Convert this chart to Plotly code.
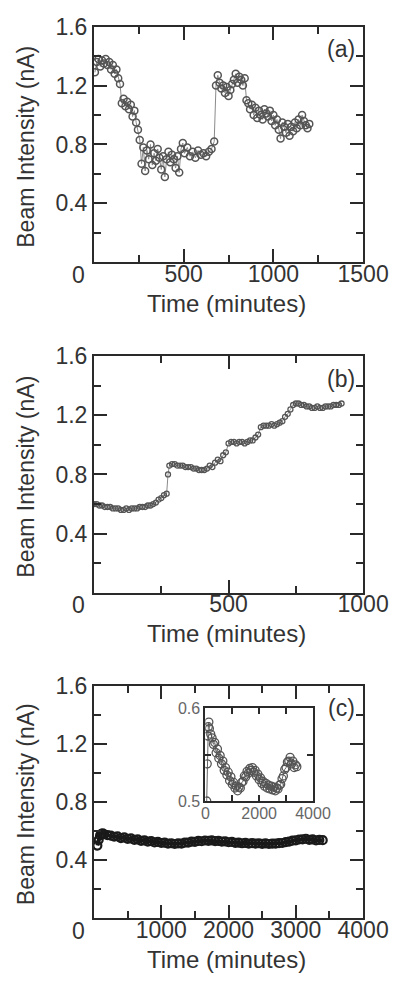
import plotly.graph_objects as go

# ---------------- data ----------------
# Panel (a)
ta = [5, 15, 25, 35, 45, 55, 65, 75, 85, 95, 105, 115, 125, 135, 145, 155, 165, 175, 185, 195,
      205, 215, 225, 235, 245, 255, 265, 275, 285, 295, 305, 315, 325, 335, 345, 355, 365, 375, 385, 395,
      405, 415, 425, 435, 445, 455, 465, 475, 485, 495, 505, 520, 535, 550, 565, 580, 595, 610, 625, 640,
      655, 670, 680, 690, 700, 710, 720, 730, 740, 750, 760, 770, 780, 790, 800, 810, 820, 830, 840, 850,
      860, 870, 880, 890, 900, 910, 920, 930, 940, 950, 960, 970, 980, 990, 1000, 1010, 1020, 1030, 1040, 1050,
      1060, 1070, 1080, 1090, 1100, 1110, 1120, 1130, 1140, 1150, 1160, 1170, 1180, 1190, 1200]
ia = [1.29, 1.36, 1.38, 1.33, 1.37, 1.35, 1.38, 1.34, 1.36, 1.31, 1.34, 1.28, 1.31, 1.25, 1.21, 1.08, 1.11, 1.06, 1.09, 1.04,
      1.07, 0.99, 1.03, 0.95, 0.90, 0.83, 0.67, 0.78, 0.62, 0.76, 0.70, 0.80, 0.66, 0.74, 0.69, 0.77, 0.71, 0.63, 0.72, 0.58,
      0.70, 0.75, 0.68, 0.73, 0.70, 0.64, 0.72, 0.61, 0.77, 0.81, 0.74, 0.78, 0.72, 0.75, 0.71, 0.76, 0.73, 0.74, 0.72, 0.75,
      0.77, 0.82, 1.20, 1.27, 1.22, 1.18, 1.20, 1.15, 1.19, 1.13, 1.17, 1.21, 1.24, 1.28, 1.22, 1.26, 1.24, 1.20, 1.25, 1.10,
      1.08, 1.04, 1.07, 1.00, 1.05, 0.98, 1.03, 1.00, 0.97, 1.04, 1.01, 0.99, 1.03, 0.96, 1.00, 0.93, 0.97, 0.90, 0.84, 0.95,
      0.92, 0.88, 0.94, 0.86, 0.92, 0.89, 0.95, 0.91, 0.97, 0.93, 1.00, 0.96, 0.93, 0.91, 0.94]

# Panel (b)
tb = [0, 10, 20, 30, 40, 50, 60, 70, 80, 90, 100, 110, 120, 130, 140, 150, 160, 170, 180, 190,
      200, 210, 220, 230, 240, 250, 260, 270, 275, 280, 290, 300, 310, 320, 330, 340, 350, 360, 370, 380,
      390, 400, 410, 420, 430, 440, 450, 460, 470, 480, 490, 500, 510, 520, 530, 540, 550, 560, 570, 580,
      590, 600, 610, 620, 630, 640, 650, 660, 670, 680, 690, 700, 710, 720, 730, 740, 750, 760, 770, 780,
      790, 800, 810, 820, 830, 840, 850, 860, 870, 880, 890, 900, 910, 920]
ib = [0.60, 0.60, 0.59, 0.59, 0.58, 0.58, 0.58, 0.57, 0.57, 0.57, 0.56, 0.56, 0.57, 0.56, 0.57, 0.57, 0.57, 0.58, 0.58, 0.58,
      0.59, 0.59, 0.60, 0.61, 0.63, 0.64, 0.66, 0.67, 0.80, 0.86, 0.87, 0.87, 0.86, 0.86, 0.86, 0.85, 0.85, 0.85, 0.84, 0.84,
      0.83, 0.83, 0.83, 0.84, 0.86, 0.85, 0.88, 0.90, 0.89, 0.93, 0.95, 1.01, 1.02, 1.02, 1.01, 1.02, 1.02, 1.01, 1.02, 1.03,
      1.03, 1.05, 1.07, 1.12, 1.13, 1.13, 1.13, 1.14, 1.13, 1.14, 1.15, 1.16, 1.19, 1.21, 1.24, 1.27, 1.28, 1.28, 1.27, 1.27,
      1.26, 1.26, 1.25, 1.25, 1.26, 1.25, 1.25, 1.26, 1.26, 1.26, 1.27, 1.27, 1.27, 1.28]

# Panel (c) (main and inset share the same data)
tc = [50, 70, 90, 110, 130, 150, 200, 250, 300, 350, 400, 450, 500, 550, 600, 650, 700, 750, 800, 850,
      900, 950, 1000, 1050, 1100, 1150, 1200, 1250, 1300, 1350, 1400, 1450, 1500, 1550, 1600, 1650, 1700, 1750, 1800, 1850,
      1900, 1950, 2000, 2050, 2100, 2150, 2200, 2250, 2300, 2350, 2400, 2450, 2500, 2550, 2600, 2650, 2700, 2750, 2800, 2850,
      2900, 2950, 3000, 3050, 3100, 3150, 3200, 3250, 3300, 3350, 3400]
ic = [0.500, 0.540, 0.570, 0.580, 0.585, 0.578, 0.572, 0.568, 0.561, 0.563, 0.552, 0.556, 0.546, 0.549, 0.540, 0.543, 0.533, 0.536, 0.528, 0.531,
      0.522, 0.526, 0.518, 0.520, 0.514, 0.516, 0.511, 0.515, 0.514, 0.520, 0.521, 0.527, 0.526, 0.532, 0.530, 0.535, 0.533, 0.536, 0.531, 0.533,
      0.527, 0.529, 0.523, 0.525, 0.519, 0.521, 0.516, 0.519, 0.514, 0.517, 0.513, 0.516, 0.512, 0.515, 0.511, 0.514, 0.513, 0.517, 0.518, 0.524,
      0.527, 0.534, 0.536, 0.542, 0.543, 0.547, 0.540, 0.543, 0.536, 0.539, 0.537]

# ---------------- figure ----------------
W, H = 416, 985
FONT = "Liberation Sans, Arial, sans-serif"
TXT = "#333333"
AXC = "#2a2a2a"

def px_x(p):
    return p / W

def px_y(p):
    return 1 - p / H

# plot boxes in pixels: (left, right, top, bottom)
boxes = {
    "a": (97, 387, 14, 255),
    "b": (97, 387, 351, 593),
    "c": (97, 387, 688, 926),
}
inset_box = (217, 333, 711, 806)

fig = go.Figure()

fig.add_trace(go.Scatter(
    x=ta, y=ia, mode="lines+markers", xaxis="x", yaxis="y",
    line=dict(color="#8a8a8a", width=1),
    marker=dict(symbol="circle-open", size=7, color="#555555", line=dict(width=1.5)),
    showlegend=False))
fig.add_trace(go.Scatter(
    x=tb, y=ib, mode="lines+markers", xaxis="x2", yaxis="y2",
    line=dict(color="#8a8a8a", width=1),
    marker=dict(symbol="circle-open", size=5, color="#555555", line=dict(width=1.3)),
    showlegend=False))
fig.add_trace(go.Scatter(
    x=tc, y=ic, mode="lines+markers", xaxis="x3", yaxis="y3",
    line=dict(color="#1a1a1a", width=4),
    marker=dict(symbol="circle-open", size=8, color="#1a1a1a", line=dict(width=2.2)),
    showlegend=False))
fig.add_trace(go.Scatter(
    x=tc, y=ic, mode="lines+markers", xaxis="x4", yaxis="y4",
    line=dict(color="#666666", width=1),
    marker=dict(symbol="circle-open", size=8, color="#555555", line=dict(width=1.3)),
    showlegend=False))

def main_axes(box, xmax, xticks, xminor):
    l, r, t, b = box
    xa = dict(
        domain=[px_x(l), px_x(r)], range=[0, xmax], showgrid=False, zeroline=False,
        showline=True, linecolor=AXC, linewidth=2, mirror="ticks",
        ticks="inside", ticklen=13, tickwidth=2, tickcolor=AXC,
        tickvals=xticks, ticktext=[str(v) for v in xticks],
        tickfont=dict(family=FONT, size=23, color=TXT), ticklabelstandoff=-10,
        minor=dict(ticks="inside", ticklen=7, tickwidth=2, tickcolor=AXC, dtick=xminor, tick0=0, showgrid=False),
        fixedrange=True,
    )
    ya = dict(
        domain=[px_y(b), px_y(t)], range=[0, 1.6], showgrid=False, zeroline=False,
        showline=True, linecolor=AXC, linewidth=2, mirror="ticks",
        ticks="inside", ticklen=13, tickwidth=2, tickcolor=AXC,
        tickvals=[0.4, 0.8, 1.2, 1.6], ticktext=["0.4", "0.8", "1.2", "1.6"],
        tickfont=dict(family=FONT, size=23, color=TXT),
        minor=dict(ticks="inside", ticklen=7, tickwidth=2, tickcolor=AXC, dtick=0.2, tick0=0, showgrid=False),
        fixedrange=True,
    )
    return xa, ya

xa1, ya1 = main_axes(boxes["a"], 1500, [500, 1000, 1500], 250)
xa2, ya2 = main_axes(boxes["b"], 1000, [500, 1000], 250)
xa3, ya3 = main_axes(boxes["c"], 4000, [1000, 2000, 3000, 4000], 500)
ya1["anchor"] = "x"; xa1["anchor"] = "y"
ya2["anchor"] = "x2"; xa2["anchor"] = "y2"
ya3["anchor"] = "x3"; xa3["anchor"] = "y3"

l, r, t, b = inset_box
xa4 = dict(
    domain=[px_x(l), px_x(r)], range=[0, 4000], anchor="y4", showgrid=False, zeroline=False,
    showline=True, linecolor=AXC, linewidth=2, mirror="ticks",
    ticks="inside", ticklen=6, tickwidth=2, tickcolor=AXC,
    tickvals=[0, 1000, 2000, 3000, 4000], ticktext=["0", "", "2000", "", "4000"],
    tickfont=dict(family=FONT, size=16, color="#666666"), ticklabelstandoff=-3, fixedrange=True,
)
ya4 = dict(
    domain=[px_y(b), px_y(t)], range=[0.5, 0.6], anchor="x4", showgrid=False, zeroline=False,
    showline=True, linecolor=AXC, linewidth=2, mirror="ticks",
    ticks="inside", ticklen=6, tickwidth=2, tickcolor=AXC,
    tickvals=[0.5, 0.55, 0.6], ticktext=["0.5", "", "0.6"],
    tickfont=dict(family=FONT, size=16, color="#666666"), fixedrange=True,
)

annotations = []
for key, label in (("a", "(a)"), ("b", "(b)"), ("c", "(c)")):
    l, r, t, b = boxes[key]
    annotations.append(dict(xref="paper", yref="paper", x=px_x(380), y=px_y(t + 23),
                            text=label, showarrow=False, xanchor="right", yanchor="middle",
                            font=dict(family=FONT, size=23, color=TXT)))
    annotations.append(dict(xref="paper", yref="paper", x=px_x(240), y=px_y(b + 42),
                            text="Time (minutes)", showarrow=False, xanchor="center", yanchor="middle",
                            font=dict(family=FONT, size=24, color=TXT)))
    annotations.append(dict(xref="paper", yref="paper", x=px_x(24), y=px_y((t + b) / 2 + 2),
                            text="Beam Intensity (nA)", showarrow=False, textangle=-90,
                            xanchor="center", yanchor="middle",
                            font=dict(family=FONT, size=23, color=TXT)))
    annotations.append(dict(xref="paper", yref="paper", x=px_x(80), y=px_y(b + 13),
                            text="0", showarrow=False, xanchor="center", yanchor="middle",
                            font=dict(family=FONT, size=23, color=TXT)))

fig.update_layout(
    width=W, height=H, margin=dict(l=0, r=0, t=0, b=0),
    paper_bgcolor="white", plot_bgcolor="white", showlegend=False,
    xaxis=xa1, yaxis=ya1, xaxis2=xa2, yaxis2=ya2, xaxis3=xa3, yaxis3=ya3,
    xaxis4=xa4, yaxis4=ya4, annotations=annotations,
)

fig.write_html("out.html", config={"displayModeBar": False})
